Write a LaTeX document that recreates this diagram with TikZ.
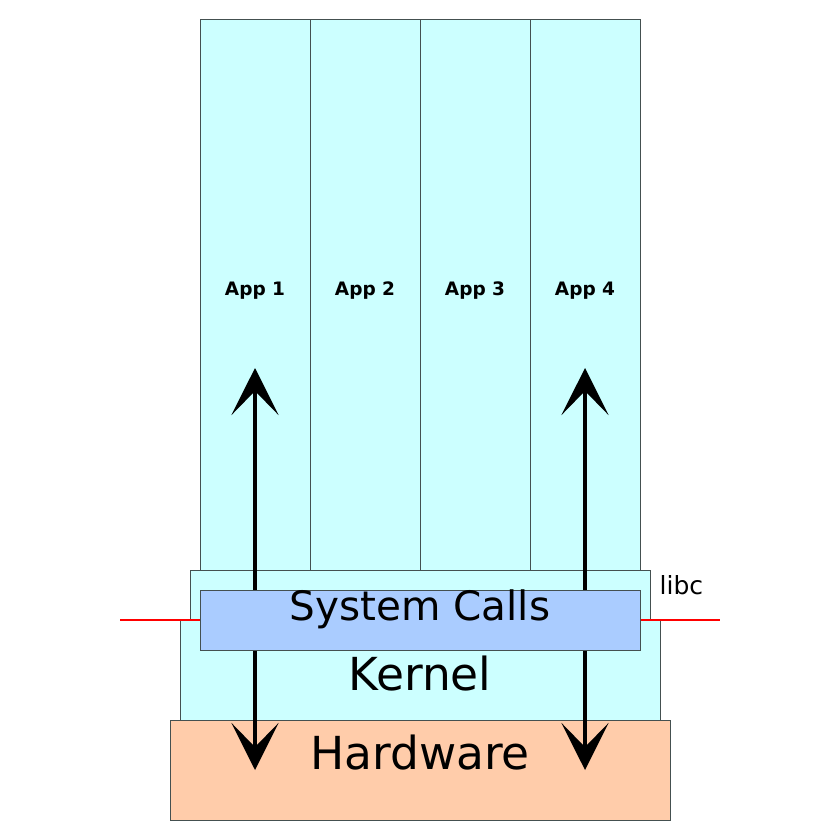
\documentclass[tikz,border=0pt]{standalone}
\usepackage{fontspec}
\setmainfont{DejaVu Sans}
\usetikzlibrary{arrows.meta}
\definecolor{appcyan}{HTML}{CCFFFF}
\definecolor{callblue}{HTML}{AACCFF}
\definecolor{hwpeach}{HTML}{FFCCAA}
\definecolor{edgegray}{HTML}{445050}
\newcommand{\appnode}[3]{
  \node[app] (#1) at (#2,295) {#3};
}
\tikzset{
  layer/.style   = {draw=edgegray, line width=1pt, inner sep=0pt},
  app/.style     = {layer, fill=appcyan, minimum width=110pt, minimum height=550pt,
                    font=\fontsize{18.5}{18.5}\selectfont\bfseries,
                    text height=8pt, text depth=8pt},
  callarrow/.style = {line width=4pt,
                    {Stealth[length=47pt,width=47pt,inset=24pt]}-{Stealth[length=47pt,width=47pt,inset=24pt]}}
}

\begin{document}
\begin{tikzpicture}[x=1pt,y=-1pt]
	\useasboundingbox (0,0) rectangle (840,840);
	\appnode{A1}{255}{App 1}
	\appnode{A2}{365}{App 2}
	\appnode{A3}{475}{App 3}
	\appnode{A4}{585}{App 4}
	\node[layer, fill=appcyan, minimum width=460pt, minimum height=50pt] (L) at (420,595) {};
	\node[inner sep=0pt, anchor=base west, font=\fontsize{25}{25}\selectfont] (Lt) at (659.5,594) {libc};
	\node[layer, fill=appcyan, minimum width=480pt, minimum height=100pt,
	      font=\fontsize{45.5}{45.5}\selectfont, text height=40pt, text depth=0pt] (K) at (420,670) {Kernel};
	\node[layer, fill=hwpeach, minimum width=500pt, minimum height=100pt,
	      font=\fontsize{45.5}{45.5}\selectfont, text height=19pt, text depth=21pt] (H) at (420,770) {Hardware};
	\coordinate (R1) at (120,620);
	\coordinate (R2) at (720,620);
	\draw[red, line width=1.2pt] (R1) -- (R2);
	\coordinate (T1) at (255,368);
	\coordinate (B1) at (255,770);
	\coordinate (T4) at (585,368);
	\coordinate (B4) at (585,770);
	\draw[callarrow] (T1) -- (B1);
	\draw[callarrow] (T4) -- (B4);
	\node[layer, fill=callblue, minimum width=440pt, minimum height=60pt,
	      font=\fontsize{40.5}{40.5}\selectfont, text height=20pt, text depth=20pt] (S) at (420,620) {System Calls};
\end{tikzpicture}
\end{document}
